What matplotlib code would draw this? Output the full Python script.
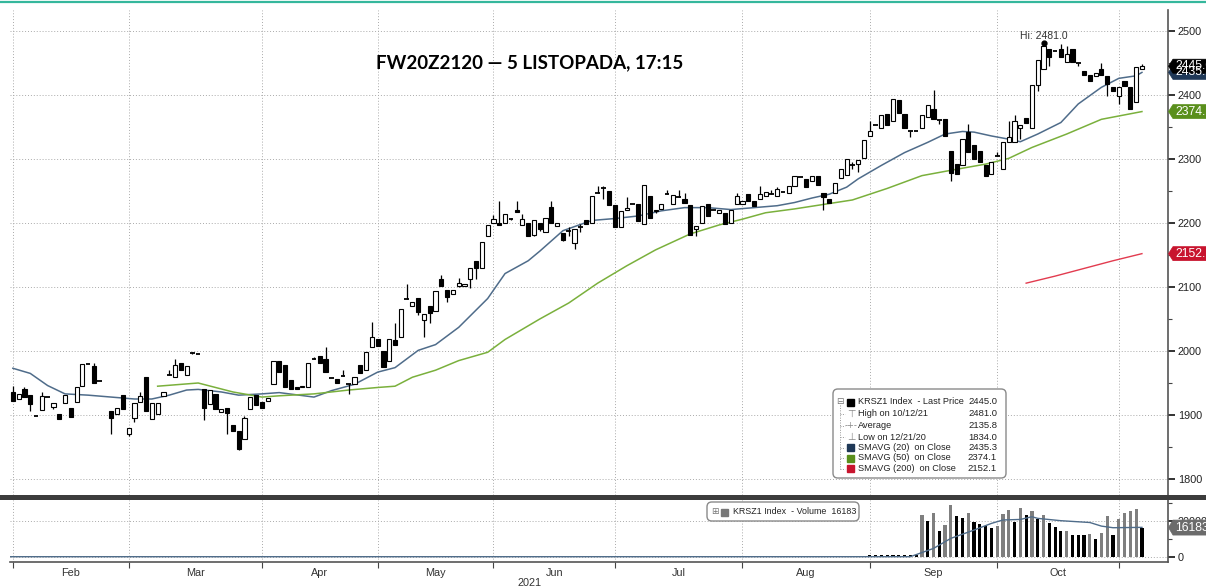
import numpy as np
import matplotlib.pyplot as plt
import matplotlib.transforms as mtransforms
from matplotlib.patches import Rectangle, FancyBboxPatch, Polygon
from matplotlib.lines import Line2D

plt.rcParams['font.family'] = ['Liberation Sans', 'DejaVu Sans']

# trading-day index 0 = 1 Feb 2021, None = no trade that day
opens = [
    1936, 1925, 1941, 1931, 1898, 1908, 1928, 1913, 1902, 1918,
    1911, 1920, 1946, 1979, 1977, 1953, None, 1906, 1902, 1932,
    1871, 1896, 1921, 1959, 1893, 1901, 1929, 1963, 1959, 1981,
    1962, 1997, 1996, 1940, 1917, 1933, 1905, 1911, 1884, 1875,
    1863, 1910, 1932, 1920, 1922, 1948, 1985, 1978, 1954, 1944,
    1943, 1944, 1988, 1992, 1987, 1958, 1956, 1961, 1948, 1949,
    1978, 1970, 2006, 2019, 2000, 1985, 2017, 2022, 2081, 2070,
    2083, 2049, 2070, 2062, 2112, 2095, 2089, 2102, 2102, 2113,
    2140, 2130, 2180, 2200, 2200, 2200, 2206, 2220, 2197, 2200,
    2181, 2200, 2186, 2225, 2195, 2185, 2188, 2169, 2193, 2204,
    2200, 2247, 2255, 2250, 2228, 2193, 2220, 2229, 2229, 2198,
    2242, 2218, 2222, 2245, 2229, 2240, 2237, 2228, 2190, 2200,
    2229, 2220, 2216, 2215, 2200, 2229, 2229, 2245, 2234, 2237,
    2242, 2245, 2242, 2249, 2247, 2258, 2272, 2268, 2266, 2273,
    2247, 2237, 2247, 2270, 2275, 2290, 2292, 2301, 2336, 2353,
    2349, 2370, 2360, 2392, 2370, 2343, 2344, 2349, 2366, 2378,
    2361, 2362, 2313, 2292, 2290, 2342, 2322, 2313, 2290, 2277,
    2304, 2285, 2326, 2326, 2349, 2364, 2348, 2415, 2440, 2472,
    2469, 2472, 2452, 2472, 2450, 2438, 2432, 2429, 2440, 2429,
    2412, 2399, 2422, 2412, 2389, 2441,
]
highs = [
    1945, 1933, 1943, 1931, 1898, 1936, 1928, 1918, 1902, 1931,
    1911, 1943, 1979, 1979, 1981, 1953, None, 1906, 1911, 1932,
    1880, 1919, 1936, 1959, 1919, 1919, 1936, 1971, 1987, 1981,
    1976, 1999, 1996, 1940, 1939, 1933, 1910, 1911, 1884, 1875,
    1899, 1928, 1932, 1920, 1927, 1985, 1985, 1978, 1954, 1944,
    1946, 1981, 1991, 1992, 2007, 1958, 1956, 1971, 1948, 1960,
    1978, 1998, 2045, 2019, 2000, 2019, 2044, 2066, 2104, 2077,
    2083, 2058, 2070, 2093, 2119, 2095, 2096, 2114, 2105, 2130,
    2140, 2170, 2197, 2213, 2234, 2214, 2208, 2234, 2214, 2200,
    2204, 2200, 2208, 2234, 2200, 2185, 2193, 2190, 2198, 2204,
    2242, 2258, 2258, 2250, 2228, 2219, 2240, 2229, 2229, 2260,
    2242, 2221, 2229, 2251, 2243, 2252, 2247, 2228, 2195, 2226,
    2229, 2220, 2220, 2215, 2220, 2247, 2234, 2245, 2234, 2258,
    2249, 2251, 2256, 2249, 2258, 2273, 2272, 2268, 2273, 2273,
    2247, 2237, 2263, 2285, 2300, 2295, 2298, 2330, 2360, 2353,
    2369, 2370, 2393, 2392, 2370, 2343, 2344, 2369, 2384, 2408,
    2361, 2362, 2313, 2292, 2332, 2355, 2322, 2313, 2290, 2295,
    2311, 2326, 2360, 2368, 2353, 2364, 2415, 2455, 2481, 2472,
    2469, 2480, 2476, 2472, 2450, 2438, 2432, 2435, 2450, 2429,
    2412, 2412, 2422, 2412, 2443, 2448,
]
lows = [
    1922, 1925, 1928, 1907, 1898, 1908, 1928, 1910, 1893, 1918,
    1897, 1920, 1946, 1979, 1950, 1953, None, 1871, 1902, 1910,
    1867, 1889, 1921, 1907, 1893, 1901, 1929, 1963, 1959, 1970,
    1962, 1996, 1996, 1892, 1917, 1910, 1905, 1871, 1875, 1845,
    1863, 1910, 1915, 1911, 1922, 1948, 1967, 1944, 1941, 1940,
    1943, 1944, 1988, 1981, 1967, 1958, 1950, 1961, 1933, 1949,
    1965, 1970, 2006, 2008, 1975, 1985, 2009, 2022, 2081, 2070,
    2056, 2022, 2043, 2062, 2102, 2076, 2089, 2100, 2102, 2099,
    2112, 2130, 2180, 2200, 2197, 2200, 2204, 2217, 2197, 2180,
    2179, 2188, 2186, 2200, 2195, 2172, 2180, 2160, 2186, 2199,
    2200, 2247, 2237, 2228, 2193, 2193, 2220, 2229, 2203, 2198,
    2208, 2215, 2222, 2245, 2229, 2240, 2232, 2181, 2180, 2200,
    2211, 2220, 2216, 2198, 2200, 2229, 2229, 2234, 2226, 2237,
    2242, 2245, 2242, 2249, 2247, 2258, 2272, 2256, 2266, 2259,
    2220, 2232, 2247, 2270, 2275, 2285, 2279, 2301, 2336, 2353,
    2349, 2353, 2360, 2372, 2349, 2334, 2344, 2349, 2366, 2362,
    2355, 2336, 2266, 2277, 2290, 2311, 2300, 2295, 2274, 2277,
    2304, 2285, 2326, 2326, 2332, 2357, 2348, 2406, 2440, 2445,
    2469, 2460, 2452, 2452, 2446, 2431, 2422, 2429, 2432, 2399,
    2406, 2386, 2414, 2378, 2389, 2441,
]
closes = [
    1922, 1933, 1928, 1917, 1898, 1929, 1928, 1918, 1893, 1931,
    1897, 1943, 1979, 1979, 1950, 1953, None, 1895, 1911, 1910,
    1880, 1919, 1930, 1907, 1919, 1919, 1936, 1963, 1978, 1970,
    1976, 1997, 1996, 1911, 1939, 1910, 1910, 1903, 1875, 1847,
    1896, 1928, 1915, 1911, 1927, 1985, 1967, 1944, 1941, 1940,
    1946, 1981, 1988, 1981, 1967, 1958, 1950, 1961, 1948, 1960,
    1965, 1998, 2022, 2008, 1975, 2019, 2009, 2066, 2081, 2077,
    2061, 2058, 2060, 2093, 2102, 2084, 2096, 2106, 2105, 2130,
    2130, 2170, 2197, 2206, 2197, 2214, 2206, 2217, 2206, 2180,
    2204, 2191, 2208, 2200, 2200, 2174, 2188, 2190, 2193, 2199,
    2242, 2247, 2255, 2228, 2193, 2219, 2224, 2229, 2203, 2260,
    2208, 2221, 2229, 2245, 2243, 2240, 2232, 2181, 2195, 2226,
    2211, 2220, 2220, 2198, 2220, 2242, 2234, 2234, 2226, 2245,
    2249, 2245, 2253, 2249, 2258, 2273, 2272, 2256, 2273, 2259,
    2240, 2232, 2263, 2285, 2300, 2290, 2298, 2330, 2343, 2353,
    2369, 2353, 2393, 2372, 2349, 2343, 2344, 2369, 2384, 2362,
    2361, 2336, 2278, 2277, 2332, 2311, 2300, 2295, 2274, 2295,
    2304, 2326, 2334, 2360, 2353, 2357, 2415, 2455, 2477, 2460,
    2469, 2460, 2464, 2452, 2450, 2431, 2422, 2435, 2432, 2417,
    2406, 2412, 2414, 2378, 2443, 2445,
]

# moving averages (day index, value)
sma20_days = [0, 3, 6, 9, 13, 17, 21, 24, 27, 30, 32, 36, 39, 43, 46, 52, 55, 59, 63, 66,
              70, 73, 77, 82, 85, 89, 91, 95, 100, 104, 108, 112, 116, 120, 124, 128, 132,
              135, 138, 141, 144, 146, 150, 154, 158, 161, 164, 166, 169, 172, 174, 177,
              181, 184, 188, 191, 194, 195]
sma20 = [1973, 1965, 1946, 1933, 1931, 1928, 1925, 1925, 1931, 1939, 1940, 1936, 1931,
         1933, 1935, 1928, 1938, 1948, 1967, 1974, 2001, 2010, 2037, 2082, 2121, 2141,
         2156, 2188, 2204, 2207, 2211, 2219, 2224, 2224, 2221, 2224, 2227, 2232, 2239,
         2245, 2256, 2269, 2290, 2310, 2326, 2339, 2343, 2342, 2336, 2331, 2327, 2339,
         2357, 2386, 2412, 2426, 2430, 2435.3]
sma50_days = [25, 32, 38, 43, 46, 52, 58, 63, 66, 69, 73, 77, 82, 85, 88, 91, 96, 101, 106,
              111, 117, 122, 126, 130, 135, 140, 145, 151, 157, 163, 168, 172, 176, 182,
              188, 195]
sma50 = [1945, 1950, 1936, 1928, 1930, 1933, 1939, 1943, 1945, 1959, 1970, 1985, 1998,
         2018, 2034, 2050, 2075, 2106, 2133, 2158, 2183, 2197, 2206, 2216, 2222, 2229,
         2236, 2254, 2274, 2284, 2292, 2301, 2318, 2339, 2362, 2374.1]
sma200_days = [175, 180, 185, 190, 195]
sma200 = [2106, 2117, 2129, 2141, 2152.1]

# volume panel
vol_days = list(range(148, 196))
volumes = [700, 700, 700, 700, 700, 700, 700, 700, 700,
           23150, 20000, 24400, 14070, 17400, 28700, 22600, 21500, 24400, 19260,
           18150, 17040, 15900, 17040, 23700, 25900, 19260, 27000, 22960, 25200,
           21100, 22960, 18500, 16700, 14440, 14440, 11850, 11850, 11850, 12600,
           10000, 12960, 22600, 11850, 21100, 24400, 25500, 26300, 16183]
vol_black = [1, 1, 1, 1, 1, 1, 1, 1, 1,
             0, 1, 0, 1, 0, 0, 1, 1, 0, 1,
             1, 1, 1, 0, 0, 0, 1, 0, 1, 0,
             1, 0, 1, 1, 1, 0, 1, 1, 1, 0,
             1, 0, 0, 1, 0, 0, 0, 0, 1]
volsma_days = [-0.5, 155, 159, 162, 166, 169, 171, 174, 176, 177, 181, 186, 188, 190, 195]
volsma = [0, 0, 4600, 10200, 14800, 18500, 20400, 20700, 22200, 21300, 20000, 19000,
          17000, 16100, 16300]

month_starts = [0, 20, 43, 63, 83, 104, 126, 148, 170, 191]
month_names = ["Feb", "Mar", "Apr", "May", "Jun", "Jul", "Aug", "Sep", "Oct"]

leg_labels = ["KRSZ1 Index  - Last Price", "High on 10/12/21", "Average",
              "Low on 12/21/20", "SMAVG (20)  on Close", "SMAVG (50)  on Close",
              "SMAVG (200)  on Close"]
leg_values = ["2445.0", "2481.0", "2135.8", "1834.0", "2435.3", "2374.1", "2152.1"]

W, H = 1206, 587
C20, C50, C200 = "#4f6c8a", "#7ab03c", "#e23b4f"
GRID = dict(color="#aaaaaa", lw=0.7, ls=(0, (1, 2)))


def fx(x):
    return x / W


def fy(y):
    return 1 - y / H


fig = plt.figure(figsize=(W / 100, H / 100), dpi=100)
ax = fig.add_axes([fx(10), fy(495), fx(1168) - fx(10), fy(10) - fy(495)])
axv = fig.add_axes([fx(10), fy(562), fx(1168) - fx(10), fy(500) - fy(562)])

# candles
for i in range(len(closes)):
    o, h, l, c = opens[i], highs[i], lows[i], closes[i]
    if o is None:
        continue
    if h > l:
        ax.vlines(i, l, h, color="black", lw=0.9, zorder=3)
    if c == o:
        ax.hlines(o, i - 0.4, i + 0.4, color="black", lw=1.3, zorder=4)
    else:
        fc = "white" if c > o else "black"
        ax.add_patch(Rectangle((i - 0.36, min(o, c)), 0.72, abs(c - o),
                               fc=fc, ec="black", lw=0.8, zorder=4))

ax.plot(sma20_days, sma20, color=C20, lw=1.1, zorder=2)
ax.plot(sma50_days, sma50, color=C50, lw=1.1, zorder=2)
ax.plot(sma200_days, sma200, color=C200, lw=1.0, zorder=2)

hi_day = int(np.argmax([v if v is not None else 0 for v in highs]))
ax.plot(hi_day, highs[hi_day], "o", color="black", ms=3.5, zorder=5)
ax.text(hi_day, highs[hi_day] + 4, f"Hi: {highs[hi_day]:.1f}", ha="center",
        va="bottom", fontsize=7.5, color="#333333")

ax.set_xlim(-0.5, 199.5)
ax.set_ylim(1775, 2532.8)
ax.set_yticks(range(1800, 2501, 100))
ax.set_yticks(range(1850, 2500, 100), minor=True)
ax.set_xticks(month_starts)
ax.xaxis.set_ticklabels([])
ax.tick_params(axis="x", length=0)
ax.yaxis.tick_right()
ax.tick_params(axis="y", which="major", length=5, width=1.4, color="#333333",
               labelsize=7.8, labelcolor="#222222", pad=2)
ax.tick_params(axis="y", which="minor", length=3, width=0.8, color="#444444")
ax.grid(True, which="major", **GRID)
for s in ["top", "left", "bottom"]:
    ax.spines[s].set_visible(False)
ax.spines["right"].set_color("#555555")
ax.spines["right"].set_linewidth(1.2)

# volume
axv.bar(vol_days, volumes, width=0.55,
        color=["black" if b else "#7f7f7f" for b in vol_black], zorder=3)
axv.plot(volsma_days, volsma, color=C20, lw=1.0, zorder=4)
axv.set_xlim(-0.5, 199.5)
axv.set_ylim(-2944, 31500)
axv.set_yticks([0, 20000])
axv.set_yticklabels(["0", "20000"])
axv.set_yticks([10000, 30000], minor=True)
axv.yaxis.tick_right()
axv.tick_params(axis="y", which="major", length=5, width=1.4, color="#333333",
                labelsize=7.8, labelcolor="#222222", pad=2)
axv.tick_params(axis="y", which="minor", length=3, width=0.8, color="#444444")
axv.set_xticks(month_starts)
axv.set_xticklabels([])
mids = [(month_starts[k] + month_starts[k + 1]) / 2 for k in range(len(month_names))]
axv.set_xticks(mids, minor=True)
axv.set_xticklabels(month_names, minor=True)
axv.tick_params(axis="x", which="major", length=4, width=0.8, color="#444444")
axv.tick_params(axis="x", which="minor", length=0, labelsize=7.8, labelcolor="#333333", pad=4)
axv.grid(True, which="major", **GRID)
for s in ["top", "left"]:
    axv.spines[s].set_visible(False)
for s in ["right", "bottom"]:
    axv.spines[s].set_color("#555555")
    axv.spines[s].set_linewidth(1.2)


def price_tag(axis, y, text, color, h=14):
    # arrow-shaped value tag just right of the price axis, in pixel coords
    _, py = axis.transData.transform((0, y))
    pts = [(1168.5, py), (1173, py + h / 2), (1215, py + h / 2),
           (1215, py - h / 2), (1173, py - h / 2)]
    fig.add_artist(Polygon(pts, closed=True, transform=mtransforms.IdentityTransform(),
                           fc=color, ec=color, lw=0.5, zorder=30))
    fig.text(1175.5 / W, py / H, text, ha="left", va="center", fontsize=8.8,
             color="white", zorder=31)


price_tag(ax, sma20[-1], f"{sma20[-1]:.1f}", "#1f3857")
price_tag(ax, closes[-1], f"{closes[-1]:.1f}", "black")
price_tag(ax, sma50[-1], f"{sma50[-1]:.1f}", "#5a8f1c")
price_tag(ax, sma200[-1], f"{sma200[-1]:.1f}", "#c8142e")
price_tag(axv, volumes[-1], f"{volumes[-1]}", "#6b6b6b", h=15)

# title and frame bits
fig.text(fx(530), fy(63), "FW20Z2120 \u2014 5 LISTOPADA, 17:15", ha="center", va="center",
         fontsize=13.5, fontweight="bold", family="Lato", color="black")
fig.text(fx(530), fy(583), "2021", ha="center", va="center", fontsize=7.8, color="#333333")
fig.add_artist(Line2D([0, 1], [fy(2), fy(2)], transform=fig.transFigure,
                      color="#35b79c", lw=1.6))
fig.add_artist(Rectangle((0, fy(500)), 1, fy(495) - fy(500), transform=fig.transFigure,
                         fc="#3c3c3c", ec="none", zorder=5))

# price legend box
fig.add_artist(FancyBboxPatch((fx(833), fy(478)), fx(1006) - fx(833), fy(389) - fy(478),
                              boxstyle="round,pad=0,rounding_size=0.004",
                              mutation_aspect=W / H, transform=fig.transFigure,
                              fc="white", ec="#8a8a8a", lw=1.0, zorder=20))
rows_y = [402, 414, 425.5, 437, 447.5, 458, 468.5]
fig.add_artist(Line2D([fx(840), fx(840)], [fy(405), fy(468.5)], transform=fig.transFigure,
                      color="#999999", lw=0.7, ls=(0, (1, 1.5)), zorder=21))
for k, yy in enumerate(rows_y):
    if k > 0:
        fig.add_artist(Line2D([fx(840), fx(845)], [fy(yy), fy(yy)], transform=fig.transFigure,
                              color="#999999", lw=0.7, ls=(0, (1, 1.5)), zorder=21))
    fig.text(fx(858), fy(yy), leg_labels[k], ha="left", va="center", fontsize=6.6,
             color="#222222", zorder=22)
    fig.text(fx(997), fy(yy), leg_values[k], ha="right", va="center", fontsize=6.8,
             color="#222222", zorder=22)
sq_colors = {0: "black", 4: "#1f3857", 5: "#5a8f1c", 6: "#c8142e"}
for k, col in sq_colors.items():
    fig.add_artist(Rectangle((fx(847), fy(rows_y[k] + 3.5)), fx(7), fy(0) - fy(7),
                             transform=fig.transFigure, fc=col, ec=col, zorder=22))
fig.text(fx(851), fy(rows_y[1]), "\u22a4", ha="center", va="center", fontsize=7,
         color="#888888", family="DejaVu Sans", zorder=22)
fig.text(fx(851), fy(rows_y[2]), "-+-", ha="center", va="center", fontsize=6,
         color="#888888", family="DejaVu Sans", zorder=22)
fig.text(fx(851), fy(rows_y[3]), "\u22a5", ha="center", va="center", fontsize=7,
         color="#888888", family="DejaVu Sans", zorder=22)
fig.text(fx(840), fy(rows_y[0]), "\u229f", ha="center", va="center", fontsize=6.5,
         color="#777777", family="DejaVu Sans", zorder=22)

# volume legend box
fig.add_artist(FancyBboxPatch((fx(707), fy(521)), fx(859) - fx(707), fy(502) - fy(521),
                              boxstyle="round,pad=0,rounding_size=0.004",
                              mutation_aspect=W / H, transform=fig.transFigure,
                              fc="white", ec="#8a8a8a", lw=1.0, zorder=20))
fig.text(fx(715), fy(512), "\u229e", ha="center", va="center", fontsize=6.5,
         color="#777777", family="DejaVu Sans", zorder=22)
fig.add_artist(Rectangle((fx(721), fy(515.5)), fx(7), fy(0) - fy(7),
                         transform=fig.transFigure, fc="#777777", ec="#777777", zorder=22))
fig.text(fx(733), fy(512), f"KRSZ1 Index  - Volume  {volumes[-1]}", ha="left", va="center",
         fontsize=6.4, color="#222222", zorder=22)

fig.savefig("out.png", dpi=100, facecolor="white")
